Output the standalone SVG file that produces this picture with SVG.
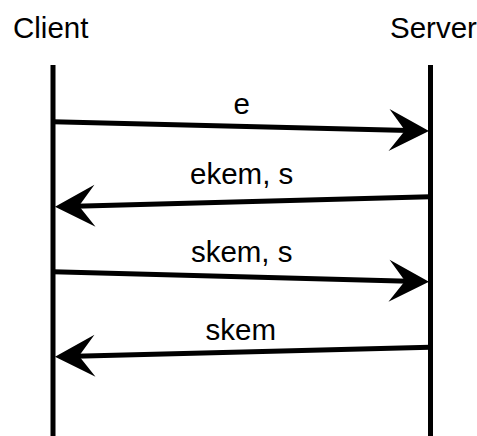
<svg xmlns="http://www.w3.org/2000/svg" width="477" height="436" viewBox="0 0 477 436">
  <style>
    .label { font-family: "Liberation Sans", Arial, sans-serif; font-size: 29.5px; fill: #000; }
    .life { stroke: #000; stroke-width: 5; fill: none; }
    .msg { stroke: #000; stroke-width: 5; fill: none; marker-end: url(#head); }
  </style>
  <defs>
    <!-- arrowhead: the line stops 20px short of the tip, the head spans the rest -->
    <marker id="head" markerUnits="userSpaceOnUse" markerWidth="1" markerHeight="1" refX="0" refY="0" orient="auto" overflow="visible">
      <path d="M20,0 L-20,-21 L-4,0 L-20,21 Z" fill="#000"/>
    </marker>
  </defs>
  <rect width="477" height="436" fill="#fff"/>

  <g id="client">
    <text class="label" x="13" y="37.7">Client</text>
    <line class="life" x1="53" y1="65" x2="53" y2="436"/>
  </g>
  <g id="server">
    <text class="label" x="390" y="37.7">Server</text>
    <line class="life" x1="430.5" y1="65" x2="430.5" y2="436"/>
  </g>

  <g id="messages">
    <line class="msg" x1="53" y1="121.7" x2="409" y2="130.5"/>
    <text class="label" x="241.7" y="114" text-anchor="middle">e</text>

    <line class="msg" x1="430" y1="196.7" x2="75" y2="206.2"/>
    <text class="label" x="241.7" y="184.3" text-anchor="middle">ekem, s</text>

    <line class="msg" x1="53" y1="271.7" x2="409" y2="281.2"/>
    <text class="label" x="241.7" y="261.7" text-anchor="middle">skem, s</text>

    <line class="msg" x1="430" y1="347.3" x2="75" y2="356.2"/>
    <text class="label" x="240.8" y="340" text-anchor="middle">skem</text>
  </g>
</svg>
